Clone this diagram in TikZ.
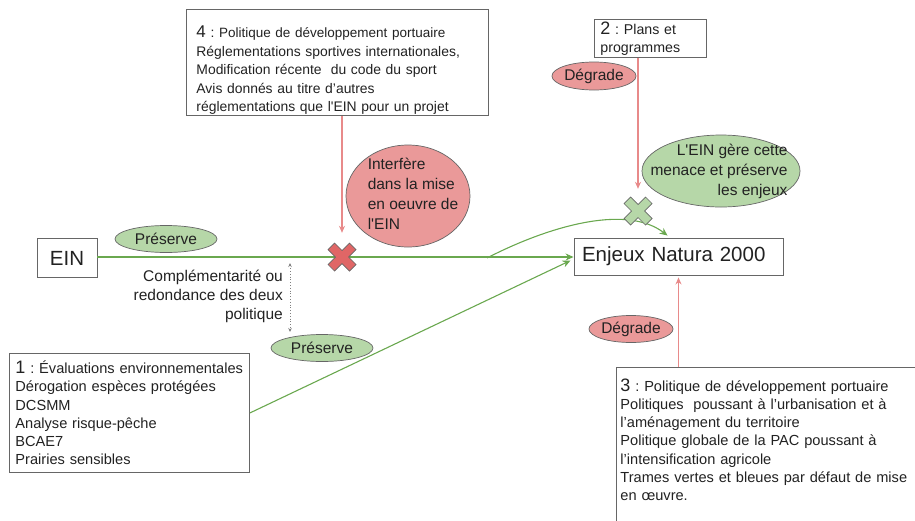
\documentclass[tikz,border=0pt]{standalone}
\usepackage{fontspec}
\setmainfont{Liberation Sans}[Ligatures=TeXOff]
\usetikzlibrary{shapes.geometric,arrows.meta,calc}
\definecolor{redfill}{HTML}{EA9999}
\definecolor{greenfill}{HTML}{B6D7A8}
\definecolor{redline}{HTML}{E88A8A}
\definecolor{greenline}{HTML}{6AA84F}
\definecolor{xred}{HTML}{E06666}
\definecolor{boxline}{HTML}{666666}
\definecolor{txt}{HTML}{222222}
\frenchspacing
\begin{document}
\begin{tikzpicture}[x=1pt,y=-1pt,
  every node/.style={text=txt},
  body/.style={font=\fontsize{14.6}{18.3}\selectfont},
  box/.style={body, draw=boxline, line width=0.9pt, fill=white, anchor=north west, align=left, inner ysep=0pt},
  oval/.style={ellipse, draw=boxline, line width=0.7pt, inner sep=0pt, font=\fontsize{15.5}{20}\selectfont},
  ovaltext/.style={inner sep=0pt, text=txt, font=\fontsize{15.5}{20}\selectfont},
  greenoval/.style={oval, fill=greenfill},
  redoval/.style={oval, fill=redfill},
  garrow/.style={draw=greenline, line width=1.1pt, -{Stealth[length=8pt,width=7pt]}},
  rarrow/.style={draw=redline, line width=1.1pt, -{Stealth[length=7pt,width=6pt]}},
  xmark/.style={minimum size=30pt, inner sep=0pt},
  redx/.style={fill=xred, draw=boxline, line width=0.7pt},
  greenx/.style={fill=greenfill, draw=boxline, line width=0.7pt},
]
\useasboundingbox (0,0) rectangle (915,520);

% boxes
\node[box, text width=282pt, inner xsep=10pt, inner ysep=1pt, minimum height=106pt,
      font=\fontsize{13.9}{18.6}\selectfont] (box4) at (186,9)
  {\rule{0pt}{27pt}{\fontsize{17}{18}\selectfont 4} : {\fontsize{13.5}{18}\selectfont Politique de développement portuaire}\\
   Réglementations sportives internationales,\\
   Modification récente\ \ du code du sport\\
   Avis donnés au titre d’autres\\
   réglementations que l'EIN pour un projet};

\node[box, text width=100pt, inner xsep=6pt, minimum height=38pt,
      font=\fontsize{14.2}{18}\selectfont] (box2) at (594,19)
  {{\fontsize{18}{18}\selectfont 2} : Plans et\\programmes};

\node[box, text width=228pt, inner xsep=6pt, minimum height=119pt] (box1) at (9,353)
  {{\fontsize{18}{18}\selectfont 1} : Évaluations environnementales\\
   Dérogation espèces protégées\\
   DCSMM\\
   Analyse risque-pêche\\
   BCAE7\\
   Prairies sensibles\\[2pt]};

\node[box, text width=300pt, inner xsep=4pt, inner ysep=11pt] (box3) at (616,367)
  {{\fontsize{18}{18}\selectfont 3} : Politique de développement portuaire\\
   Politiques\ \ poussant à l’urbanisation et à\\
   l’aménagement du territoire\\
   Politique globale de la PAC poussant à\\
   l’intensification agricole\\
   Trames vertes et bleues par défaut de mise\\
   en œuvre.\\ \mbox{}};

\node[draw=boxline, line width=0.9pt, fill=white, minimum width=60pt, minimum height=39pt,
      inner sep=0pt, font=\fontsize{20.5}{20}\selectfont] (ein) at (67,258) {EIN};

\node[draw=boxline, line width=0.9pt, fill=white, minimum width=209pt, minimum height=37pt,
      inner xsep=8pt, text width=193pt, align=left, font=\fontsize{20.5}{20}\selectfont] (enjeux) at (678.5,256.5) {Enjeux Natura 2000};

% ovals
\node[greenoval, minimum width=102pt, minimum height=27pt] (pres1) at (166,239) {Préserve};
\node[greenoval, minimum width=102pt, minimum height=27pt] (pres2) at (322,348) {Préserve};
\node[redoval, minimum width=82pt, minimum height=28pt] (deg1) at (594,76) {Dégrade};
\node[redoval, minimum width=82pt, minimum height=27pt] (deg2) at (631,329) {Dégrade};
\node[redoval, minimum width=124pt, minimum height=102pt,
      label={[ovaltext, align=left, xshift=5pt, yshift=2pt]center:{Interfère\\dans la mise\\en oeuvre de\\l'EIN}}] (interf) at (408,196) {};
\node[greenoval, minimum width=158pt, minimum height=72pt,
      label={[ovaltext, align=right, xshift=-2pt]center:{L'EIN gère cette\\menace et préserve\\les enjeux}}] (gere) at (721,171) {};

\node[align=right, inner sep=0pt, font=\fontsize{15.5}{19}\selectfont, anchor=east] (compl) at (283,296)
  {Complémentarité ou\\redondance des deux\\politique};

% cross marks (positions)
\node[xmark] (rx) at (342,257) {};
\node[xmark] (gx) at (638,211) {};

% connectors
\coordinate (branch) at (487,258);
\draw[garrow] (ein.east |- rx) -- (enjeux.west |- rx);
\draw[garrow] (box1.east) -- ($(enjeux.west)+(-3,4)$);
\draw[garrow] (branch) .. controls (545,228) and (625,203) .. ($(enjeux.north west)+(94,-2)$);
\draw[rarrow, shorten >=9pt] (box4.south -| rx) -- (rx.north);
\draw[rarrow, shorten >=7pt] (box2.south -| gx) -- (gx.north);
\draw[rarrow] (enjeux.south |- box3.north west) -- ($(enjeux.south)+(0,2)$);

\coordinate (dtop) at (290,263);
\coordinate (dbot) at (290,332);
\draw[draw=gray, line width=0.8pt, dotted, {Stealth[length=4pt,width=3.5pt]}-{Stealth[length=4pt,width=3.5pt]}] (dtop) -- (dbot);

% crosses
\draw[redx, shift={(rx.center)}, rotate=45]
  (4.6,4.6) -- (4.6,15.2) -- (-4.6,15.2) -- (-4.6,4.6) -- (-15.2,4.6) -- (-15.2,-4.6)
  -- (-4.6,-4.6) -- (-4.6,-15.2) -- (4.6,-15.2) -- (4.6,-4.6) -- (15.2,-4.6) -- (15.2,4.6) -- cycle;
\draw[greenx, shift={(gx.center)}, rotate=45]
  (4.6,4.6) -- (4.6,15.2) -- (-4.6,15.2) -- (-4.6,4.6) -- (-15.2,4.6) -- (-15.2,-4.6)
  -- (-4.6,-4.6) -- (-4.6,-15.2) -- (4.6,-15.2) -- (4.6,-4.6) -- (15.2,-4.6) -- (15.2,4.6) -- cycle;
\end{tikzpicture}
\end{document}
